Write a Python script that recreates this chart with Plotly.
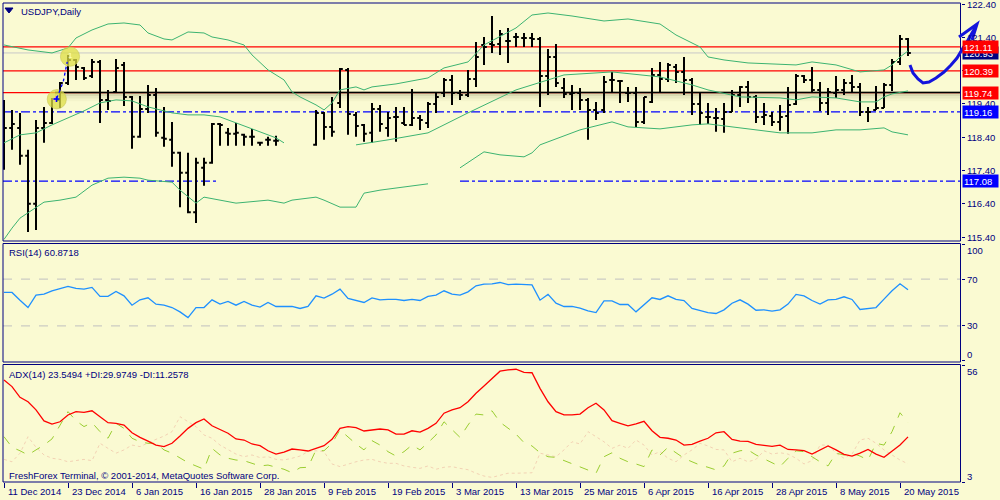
import plotly.graph_objects as go

# ---------------- data ----------------
date_labels = ["11 Dec 2014", "23 Dec 2014", "6 Jan 2015", "16 Jan 2015", "28 Jan 2015",
               "9 Feb 2015", "19 Feb 2015", "3 Mar 2015", "13 Mar 2015", "25 Mar 2015",
               "6 Apr 2015", "16 Apr 2015", "28 Apr 2015", "8 May 2015", "20 May 2015"]
date_label_idx = [0, 8, 16, 24, 32, 40, 48, 56, 64, 72, 80, 88, 96, 104, 112]

bar_idx = list(range(114))
N = None
bar_open = [119.07, 118.68, 118.68, 117.84, 116.40, 118.68, 118.83, 119.52, 120.03, 120.72,
            120.48, 120.24, 120.66, 119.52, 119.76, 120.57, 119.61, 118.41, 119.25, 119.67,
            118.38, 118.32, 117.93, 117.33, 116.15, 117.48, 117.63, 118.80, 118.53, 118.50,
            118.47, 118.41, 118.23, 118.32, 118.29, N, N, N, N, 118.17,
            119.13, 118.71, 119.43, 120.42, 119.07, 118.77, 118.53, 119.25, 118.68, 119.01,
            118.83, 118.77, 118.98, 118.83, 119.40, 119.73, 120.12, 119.73, 119.67, 120.15,
            121.17, 121.20, 121.20, 121.29, 121.41, 121.38, 121.38, 121.35, 120.24, 120.81,
            119.88, 119.70, 119.73, 119.52, 119.22, 119.22, 120.12, 120.09, 119.73, 119.73,
            118.86, 119.46, 120.27, 120.15, 120.51, 120.36, 120.12, 119.40, 119.01, 118.98,
            118.95, 119.16, 119.67, 119.91, 119.61, 119.01, 119.04, 118.86, 119.04, 119.40,
            120.24, 120.12, 119.82, 119.43, 119.73, 119.82, 120.03, 119.91, 119.16, 119.22,
            119.28, 119.97, 120.66, 121.35]
bar_high = [119.52, 119.22, 119.13, 118.02, 118.92, 119.31, 119.58, 120.06, 120.87, 120.75,
            120.51, 120.75, 120.72, 119.82, 120.75, 120.66, 119.64, 119.64, 119.97, 119.88,
            119.31, 118.86, 117.96, 117.93, 117.78, 117.78, 118.83, 118.83, 118.68, 118.83,
            118.50, 118.65, 118.26, 118.41, 118.44, N, N, N, N, 119.22,
            119.16, 119.61, 120.48, 120.48, 119.16, 118.80, 119.43, 119.37, 119.16, 119.31,
            119.31, 119.85, 119.07, 119.46, 119.76, 120.18, 120.27, 119.82, 120.42, 121.26,
            121.41, 122.04, 121.62, 121.68, 121.53, 121.53, 121.53, 121.41, 121.05, 121.20,
            120.18, 119.97, 119.88, 119.58, 119.46, 120.24, 120.36, 120.12, 119.91, 119.91,
            119.61, 120.48, 120.66, 120.63, 120.60, 120.81, 120.18, 119.73, 119.43, 119.28,
            119.43, 119.82, 119.94, 120.09, 119.67, 119.43, 119.16, 119.37, 119.91, 120.30,
            120.27, 120.51, 120.06, 119.88, 120.24, 120.15, 120.27, 120.03, 119.31, 119.94,
            120.03, 120.75, 121.47, 121.38]
bar_low = [117.42, 118.02, 117.57, 115.55, 115.61, 118.23, 118.80, 119.28, 119.97, 120.12,
           120.12, 120.18, 118.83, 119.22, 119.73, 119.34, 118.05, 118.38, 119.13, 118.41,
           118.11, 117.51, 116.30, 116.12, 115.82, 116.94, 117.60, 118.14, 118.14, 118.14,
           118.14, 118.14, 118.14, 118.14, 118.14, N, N, N, N, 118.14,
           118.32, 118.41, 119.28, 118.47, 118.41, 118.26, 118.23, 118.56, 118.41, 118.26,
           118.77, 118.74, 118.62, 118.68, 119.13, 119.61, 119.37, 119.52, 119.61, 119.91,
           120.57, 120.93, 120.87, 120.63, 121.11, 121.11, 121.11, 119.31, 119.67, 119.91,
           119.58, 119.22, 119.22, 118.32, 118.92, 119.13, 119.76, 119.43, 119.46, 118.71,
           118.80, 119.43, 119.76, 120.06, 120.03, 119.67, 119.07, 118.77, 118.80, 118.56,
           118.53, 119.16, 119.31, 119.43, 118.83, 118.77, 118.74, 118.59, 118.50, 119.37,
           120.03, 119.73, 119.19, 119.07, 119.58, 119.67, 119.76, 119.04, 118.86, 119.22,
           119.28, 119.79, 120.57, 120.84]
bar_close = [118.68, 118.80, 117.84, 116.40, 118.68, 118.83, 119.55, 120.03, 120.72, 120.51,
             120.18, 120.66, 119.52, 119.49, 120.48, 119.61, 118.41, 119.25, 119.67, 118.53,
             118.35, 117.93, 117.33, 116.15, 117.63, 117.63, 118.80, 118.77, 118.50, 118.53,
             118.41, 118.41, 118.23, 118.32, 118.29, N, N, N, N, 119.13,
             118.71, 118.56, 120.45, 119.10, 118.74, 118.50, 119.25, 118.80, 118.98, 119.01,
             118.77, 118.98, 118.92, 119.40, 119.61, 120.12, 119.73, 119.67, 120.15, 120.81,
             121.11, 121.17, 121.50, 121.29, 121.41, 121.38, 121.35, 120.24, 120.81, 120.03,
             119.70, 119.73, 119.52, 119.22, 119.13, 120.06, 120.12, 120.09, 119.73, 118.86,
             119.61, 120.27, 120.15, 120.57, 120.36, 120.12, 119.40, 119.13, 119.01, 118.98,
             119.16, 119.67, 119.91, 119.61, 119.01, 119.07, 118.86, 119.01, 119.37, 120.24,
             120.12, 119.82, 119.43, 119.76, 119.82, 120.03, 119.91, 119.16, 119.16, 119.28,
             119.97, 120.66, 121.35, 120.93]

# Bollinger Bands (20) at sample bars (None = gap in the drawing)
bb_upper_idx = [0, 3, 6, 8, 9, 11, 13, 15, 17, 18, 20, 21, 22, 23, 25, 26, 28, 30, 31, 33, 35, 36,
                37, 39, 40, 41, 42, 44, 45, 46, 49, 53, 55, 58, 60, 64, 66, 68, 71, 75, 78, 82,
                84, 87, 88, 90, 93, 99, 101, 104, 107, 109, 110, 111, 112, 113]
bb_upper = [121.17, 121.02, 120.93, 121.08, 121.38, 121.62, 121.80, 121.83, 121.77, 121.53, 121.35,
            121.32, 121.44, 121.56, 121.53, 121.41, 121.32, 121.17, 120.87, 120.42, 120.12, 119.76,
            119.61, 119.37, 119.22, 119.43, 119.82, 119.91, 119.82, 119.91, 120.00, 120.18, 120.48,
            120.66, 121.17, 121.68, 122.07, 122.13, 122.04, 121.89, 121.95, 121.80, 121.47, 121.11,
            120.81, 120.72, 120.63, 120.57, 120.66, 120.57, 120.36, 120.39, 120.42, 120.57, 120.81,
            120.99]
bb_mid_idx = [0, 2, 4, 6, 8, 10, 12, 14, 16, 18, 21, 23, 25, 27, 29, 32, 34, 35, 40, 44, 48, 53,
              58, 64, 70, 76, 82, 86, 88, 92, 97, 99, 101, 104, 107, 109, 110, 111, 113]
bb_mid = [118.23, 118.47, 118.53, 118.77, 118.98, 119.19, 119.43, 119.52, 119.49, 119.31, 119.13,
          119.07, 119.07, 119.01, 118.83, 118.56, 118.38, 118.23, None, 118.17, 118.32, 118.53,
          119.13, 119.82, 120.27, 120.36, 120.21, 119.97, 119.82, 119.61, 119.58, 119.52, 119.61,
          119.58, 119.46, 119.46, 119.61, 119.70, 119.79]
bb_lower_idx = [0, 1, 2, 5, 7, 9, 11, 13, 15, 17, 18, 21, 22, 24, 25, 29, 33, 35, 36, 39, 40, 42,
                44, 45, 47, 53, 55, 57, 60, 62, 65, 66, 67, 72, 76, 78, 82, 86, 88, 92, 97, 101,
                104, 107, 110, 111, 113]
bb_lower = [115.33, 115.67, 115.97, 116.45, 116.51, 116.60, 116.96, 117.17, 117.20, 117.17, 117.11,
            117.05, 116.81, 116.42, 116.60, 116.42, 116.51, 116.42, 116.51, 116.60, 116.51, 116.30,
            116.30, 116.72, 116.81, 117.00, None, 117.48, 117.96, 117.87, 117.81, 117.93, 118.17,
            118.62, 118.86, 118.71, 118.65, 118.77, 118.80, 118.68, 118.53, 118.53, 118.62, 118.62,
            118.68, 118.56, 118.47]

# horizontal levels
lvl_red_1 = 121.11
lvl_red_2 = 120.39
lvl_red_3 = 119.74
lvl_bid = 120.93
lvl_blue_1 = 119.16
lvl_blue_2 = 117.08
price_ticks = [122.40, 121.40, 120.40, 119.40, 118.40, 117.40, 116.40, 115.40]

rsi = [58.6, 58.6, 52.0, 45.7, 56.3, 57.1, 60.0, 62.0, 63.7, 62.0,
       61.4, 62.9, 55.2, 55.2, 59.4, 55.7, 47.7, 52.3, 54.0, 48.6,
       47.7, 45.7, 42.0, 37.1, 45.7, 45.7, 52.3, 48.6, 50.9, 47.7,
       50.9, 47.7, 46.0, 50.0, 46.6, 46.6, 46.6, 44.9, 46.6, 55.7,
       53.7, 57.1, 61.4, 53.5, 51.7, 50.0, 54.0, 52.3, 52.6, 52.6,
       51.7, 52.6, 51.7, 55.2, 56.3, 60.0, 57.1, 56.3, 59.1, 64.3,
       65.7, 66.0, 67.1, 65.3, 65.7, 65.7, 65.1, 52.0, 56.9, 49.4,
       46.6, 46.6, 45.1, 42.9, 41.4, 51.4, 51.4, 48.3, 48.3, 42.0,
       47.7, 54.0, 52.6, 55.7, 52.6, 51.7, 44.9, 43.1, 41.4, 40.6,
       43.7, 49.4, 52.3, 48.6, 43.4, 43.7, 42.6, 43.7, 48.6, 56.9,
       55.7, 51.7, 48.6, 52.3, 52.6, 54.9, 52.6, 44.0, 44.9, 45.7,
       52.9, 60.0, 66.0, 60.8718]
rsi_levels = [70, 30]
rsi_ticks = [100, 70, 30, 0]

adx = [49.4, 46.4, 41.5, 39.5, 35.8, 30.8, 29.3, 30.4, 33.5, 35.0,
       34.7, 35.4, 32.7, 30.0, 29.7, 28.9, 25.4, 23.3, 21.6, 19.8,
       19.1, 20.6, 23.9, 27.4, 30.0, 31.7, 28.6, 27.0, 25.2, 22.6,
       22.1, 20.3, 19.5, 17.2, 15.7, 16.6, 18.0, 17.6, 17.1, 18.3,
       19.5, 22.4, 27.4, 28.2, 27.7, 26.2, 26.7, 27.1, 26.7, 24.8,
       24.8, 26.3, 25.7, 27.4, 29.7, 34.3, 35.8, 36.8, 39.5, 43.4,
       46.7, 50.2, 53.4, 54.0, 54.3, 52.9, 52.7, 45.6, 39.5, 35.0,
       33.5, 33.5, 33.9, 36.8, 38.8, 35.8, 30.9, 29.7, 28.5, 29.4,
       30.6, 26.3, 23.3, 22.9, 22.1, 19.8, 20.1, 21.6, 22.9, 25.4,
       25.9, 22.4, 21.6, 21.5, 20.1, 19.7, 19.2, 19.8, 17.8, 17.6,
       17.3, 15.7, 17.6, 19.4, 17.6, 15.6, 14.8, 16.1, 17.8, 15.7,
       14.2, 16.8, 19.8, 23.5494]
plus_di = [23.6, 18.8, 17.2, 15.3, 17.6, 19.8, 22.6, 28.9, 35.0, 30.9,
           28.2, 30.0, 25.9, 22.9, 29.7, 27.4, 22.9, 21.3, 20.6, 20.6,
           17.6, 16.1, 13.8, 11.8, 10.3, 8.8, 18.3, 15.3, 13.8, 13.0,
           12.7, 11.5, 10.3, 10.7, 9.7, 8.8, 7.2, 9.5, 9.7, 17.6,
           17.2, 20.6, 26.7, 23.3, 20.3, 17.6, 21.8, 19.8, 16.8, 14.8,
           16.8, 19.8, 17.6, 20.9, 24.4, 30.4, 27.0, 23.3, 28.9, 33.9,
           33.5, 35.4, 30.2, 27.4, 24.8, 20.9, 19.4, 16.3, 14.5, 14.2,
           12.7, 11.2, 9.7, 8.5, 7.0, 14.5, 16.3, 13.8, 12.2, 11.2,
           10.0, 17.6, 15.3, 18.8, 16.3, 13.8, 12.2, 10.7, 9.7, 8.5,
           10.3, 16.1, 17.2, 17.6, 15.3, 13.5, 11.5, 10.0, 13.8, 17.2,
           16.8, 14.5, 12.2, 10.3, 16.1, 15.3, 16.1, 14.8, 13.0, 20.6,
           19.8, 25.9, 34.5, 29.9749]
minus_di = [13.3, 12.2, 16.1, 23.6, 18.8, 15.3, 13.8, 13.3, 12.2, 12.7,
            13.3, 12.7, 20.6, 18.3, 16.1, 17.6, 19.8, 19.1, 20.9, 22.4,
            23.9, 25.9, 32.7, 30.4, 28.2, 24.4, 22.9, 19.8, 17.6, 15.7,
            14.5, 15.3, 14.1, 14.5, 13.3, 13.0, 13.8, 14.8, 16.8, 17.2,
            16.8, 11.2, 10.0, 11.2, 12.2, 13.0, 13.3, 12.2, 11.5, 11.5,
            10.3, 9.7, 9.2, 10.3, 8.8, 9.7, 10.0, 9.2, 8.6, 7.0,
            5.7, 5.1, 6.2, 7.0, 7.0, 7.2, 7.2, 16.1, 15.3, 14.5,
            17.6, 21.3, 20.3, 25.9, 23.6, 21.3, 18.3, 19.8, 18.3, 22.1,
            19.8, 15.3, 16.8, 13.8, 12.2, 15.3, 17.6, 20.6, 19.4, 17.8,
            17.6, 12.2, 13.8, 12.2, 13.3, 17.2, 15.7, 16.3, 15.7, 13.8,
            11.2, 12.7, 19.8, 19.8, 16.1, 13.8, 15.7, 22.1, 22.9, 20.6,
            17.6, 15.3, 13.0, 11.2578]
adx_ticks = [3, 56]

# ---------------- styling ----------------
BG = "#FAFAD2"
NAVY = "#000080"
FONT = "Liberation Sans, Arial, sans-serif"
FS = 9.5
W, H = 1000, 500

def px_x(p):
    return p / W

def px_y(p):
    return 1 - p / H

XL, XR = px_x(3), px_x(960.5)
X_RANGE = [-0.125, 119.56]

fig = go.Figure()

valid = [i for i in bar_idx if bar_open[i] is not None]
fig.add_trace(go.Scatter(x=bb_upper_idx, y=bb_upper, mode="lines",
                         line=dict(color="#3CB371", width=1), xaxis="x", yaxis="y"))
fig.add_trace(go.Scatter(x=bb_mid_idx, y=bb_mid, mode="lines", connectgaps=False,
                         line=dict(color="#3CB371", width=1), xaxis="x", yaxis="y"))
fig.add_trace(go.Scatter(x=bb_lower_idx, y=bb_lower, mode="lines", connectgaps=False,
                         line=dict(color="#3CB371", width=1), xaxis="x", yaxis="y"))
fig.add_trace(go.Ohlc(x=valid,
                      open=[bar_open[i] for i in valid], high=[bar_high[i] for i in valid],
                      low=[bar_low[i] for i in valid], close=[bar_close[i] for i in valid],
                      increasing=dict(line=dict(color="black", width=2)),
                      decreasing=dict(line=dict(color="black", width=2)),
                      tickwidth=0.35, xaxis="x", yaxis="y"))

fig.add_trace(go.Scatter(x=bar_idx, y=rsi, mode="lines",
                         line=dict(color="#1E90FF", width=1.3), xaxis="x2", yaxis="y2"))

fig.add_trace(go.Scatter(x=bar_idx, y=minus_di, mode="lines",
                         line=dict(color="#F2D2B4", width=1, dash="dot"), xaxis="x3", yaxis="y3"))
fig.add_trace(go.Scatter(x=bar_idx, y=plus_di, mode="lines",
                         line=dict(color="#9ACD32", width=1, dash="dash"), xaxis="x3", yaxis="y3"))
fig.add_trace(go.Scatter(x=bar_idx, y=adx, mode="lines",
                         line=dict(color="#FF0000", width=1.3), xaxis="x3", yaxis="y3"))

shapes = []
def hline(y, color, width=1.2, dash="solid", x0=XL, x1=XR, yref="y", layer="below"):
    shapes.append(dict(type="line", xref="paper", yref=yref, x0=x0, x1=x1, y0=y, y1=y,
                       line=dict(color=color, width=width, dash=dash), layer=layer))

# shadow of black trend line
for k, a in [(0.10, 0.10), (0.18, 0.07), (0.26, 0.04)]:
    shapes.append(dict(type="rect", xref="paper", yref="y", x0=px_x(55), x1=XR,
                       y0=lvl_red_3 - k, y1=lvl_red_3 + 0.04, fillcolor=f"rgba(90,90,40,{a})",
                       line=dict(width=0), layer="below"))
hline(lvl_bid, "#C8C8C8", 1)
hline(lvl_red_1, "#FF0000", 1.3)
hline(lvl_red_2, "#FF0000", 1.3)
hline(lvl_red_3, "#FF0000", 1.3)
hline(lvl_red_3, "#000000", 1.5, x0=px_x(55))
hline(lvl_blue_1, "#0000FF", 1.3, dash="dashdot")
hline(lvl_blue_2, "#0000FF", 1.3, dash="dashdot", x1=px_x(217))
hline(lvl_blue_2, "#0000FF", 1.3, dash="dashdot", x0=px_x(460))
for lv in rsi_levels:
    hline(lv, "#C0C0C0", 1, dash="dash", yref="y2")

# yellow marker circles
for cx, cy in [(8.25, 120.82), (6.6, 119.54)]:
    shapes.append(dict(type="circle", xref="x", yref="y", x0=cx - 1.2, x1=cx + 1.2,
                       y0=cy - 0.29, y1=cy + 0.29, fillcolor="rgba(222,222,70,0.75)",
                       line=dict(color="rgba(200,200,90,0.6)", width=1), layer="above"))
shapes.append(dict(type="path", xref="x", yref="y",
                   path="M 6.6 119.57 L 7.4 120.06 L 7.9 120.66",
                   line=dict(color="#0000FF", width=1.3, dash="dot")))

# panel frames
for top, bot in [(3, 241), (243.5, 362), (364.5, 482)]:
    shapes.append(dict(type="rect", xref="paper", yref="paper", x0=XL, x1=XR,
                       y0=px_y(bot), y1=px_y(top), line=dict(color=NAVY, width=1),
                       fillcolor="rgba(0,0,0,0)", layer="above"))

# title triangle
shapes.append(dict(type="path", xref="paper", yref="paper",
                   path=f"M {px_x(5)} {px_y(8)} L {px_x(13)} {px_y(8)} L {px_x(9)} {px_y(13)} Z",
                   fillcolor=NAVY, line=dict(color=NAVY, width=1)))

# hand-drawn blue arrow
shaft = [(910, 65), (913, 73), (918, 79), (923, 83), (929, 82), (936, 78), (944, 72),
         (951, 65), (957, 58), (963, 48), (968, 40), (972, 33), (976, 26)]
p = "M " + " L ".join(f"{px_x(a)} {px_y(b)}" for a, b in shaft)
shapes.append(dict(type="path", xref="paper", yref="paper", path=p,
                   line=dict(color="#1414DC", width=3)))
head = [(959, 37), (977, 24), (972, 40)]
p2 = "M " + " L ".join(f"{px_x(a)} {px_y(b)}" for a, b in head)
shapes.append(dict(type="path", xref="paper", yref="paper", path=p2,
                   line=dict(color="#1414DC", width=3)))

annotations = []
def txt(x, y, s, xref="paper", yref="paper", color=NAVY, size=FS, xanchor="left",
        yanchor="middle", yshift=0, xshift=0, **kw):
    annotations.append(dict(x=x, y=y, xref=xref, yref=yref, text=s, showarrow=False,
                            xanchor=xanchor, yanchor=yanchor, yshift=yshift, xshift=xshift,
                            font=dict(family=FONT, size=size, color=color), **kw))

txt(px_x(19), px_y(11), "USDJPY,Daily")
txt(px_x(7), px_y(252), "RSI(14) 60.8718")
txt(px_x(7), px_y(374), "ADX(14) 23.5494 +DI:29.9749 -DI:11.2578")
txt(px_x(7), px_y(475), "FreshForex Terminal, © 2001-2014, MetaQuotes Software Corp.")
txt(8.25, 120.86, "1", xref="x", yref="y", color="#FFFFC0", size=8, xanchor="center")
txt(6.6, 119.54, "✚", xref="x", yref="y", color="#0000FF", size=8, xanchor="center")

for v in price_ticks:
    txt(px_x(965), v, f"{v:.2f}", yref="y")
for v in rsi_ticks:
    sh = -6.5 if v == 100 else (6 if v == 0 else 0)
    txt(px_x(965), v, str(v), yref="y2", yshift=sh)
for v in adx_ticks:
    sh = -6 if v == 56 else 6
    txt(px_x(965), v, str(v), yref="y3", yshift=sh)

def box(v, color):
    annotations.append(dict(x=px_x(961.5), y=v, xref="paper", yref="y", text=f"{v:.2f}",
                            showarrow=False, xanchor="left", yanchor="middle", align="left",
                            width=33, height=10, borderpad=1, bgcolor=color,
                            font=dict(family=FONT, size=FS, color="white")))
box(lvl_bid, "#000080")
box(lvl_red_1, "#FF0000")
box(lvl_red_2, "#FF0000")
box(lvl_red_3, "#FF0000")
box(lvl_blue_1, "#0000FF")
box(lvl_blue_2, "#0000FF")

for i, s in zip(date_label_idx, date_labels):
    txt(i, px_y(491), s, xref="x3", xshift=2)

axis_common = dict(showgrid=False, zeroline=False, showline=False, showticklabels=False)
fig.update_layout(
    width=W, height=H, margin=dict(l=0, r=0, t=0, b=0, autoexpand=False),
    paper_bgcolor=BG, plot_bgcolor=BG, showlegend=False,
    xaxis=dict(domain=[XL, XR], range=X_RANGE, anchor="y", rangeslider=dict(visible=False), **axis_common),
    xaxis2=dict(domain=[XL, XR], range=X_RANGE, anchor="y2", **axis_common),
    xaxis3=dict(domain=[XL, XR], range=X_RANGE, anchor="y3", ticks="outside", ticklen=5,
                tickcolor=NAVY, tickvals=date_label_idx, **axis_common),
    yaxis=dict(domain=[px_y(241), px_y(3)], range=[115.283, 122.43], anchor="x", side="right",
               ticks="outside", ticklen=3, tickcolor=NAVY, tickvals=price_ticks, **axis_common),
    yaxis2=dict(domain=[px_y(362), px_y(243.5)], range=[-0.86, 100.43], anchor="x2", side="right",
                ticks="outside", ticklen=3, tickcolor=NAVY, tickvals=rsi_ticks, **axis_common),
    yaxis3=dict(domain=[px_y(482), px_y(364.5)], range=[3, 56.45], anchor="x3", side="right",
                ticks="outside", ticklen=3, tickcolor=NAVY, tickvals=adx_ticks, **axis_common),
    shapes=shapes, annotations=annotations,
)

fig.write_html("out.html", config={"displayModeBar": False},
               post_script="document.body.style.margin='0px';document.body.style.overflow='hidden';")
